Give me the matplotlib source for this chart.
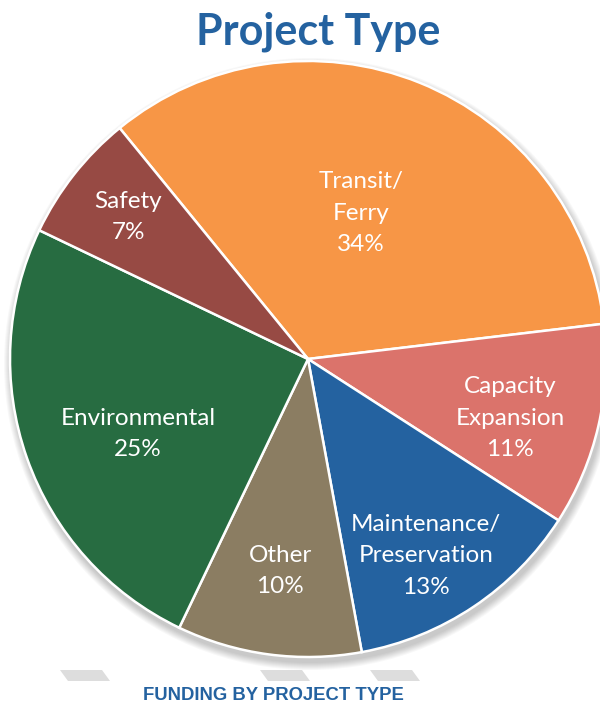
import numpy as np
import matplotlib.pyplot as plt
from matplotlib.patches import Circle, Polygon

# data
labels = ['Transit/\nFerry', 'Capacity\nExpansion', 'Maintenance/\nPreservation',
          'Other', 'Environmental', 'Safety']
shares = [34, 11, 13, 10, 25, 7]
colors = ['#F79646', '#DB736B', '#2462A0', '#8B7D62', '#276C41', '#974A44']

# label placement: fraction of radius, angle shift from the wedge middle (deg)
label_r = [0.521, 0.706, 0.770, 0.717, 0.624, 0.769]
label_shift = [2.0, -3.3, -2.9, 0.1, 4.4, -0.1]

W, H = 600, 704
fig = plt.figure(figsize=(W / 100, H / 100), dpi=100)
ax = fig.add_axes([0, 0, 1, 1])

cx, cy, R = 308, H - 359, 298

# soft shadow under the pie
for i in range(8):
    ax.add_patch(Circle((cx + 2, cy - 5), R + 8 - i, color='#000000',
                        alpha=0.028, lw=0, zorder=0))

wedges, _ = ax.pie(shares, colors=colors, startangle=129.2, counterclock=False,
                   center=(cx, cy), radius=R, explode=[0.01, 0, 0, 0, 0, 0],
                   wedgeprops=dict(edgecolor='white', linewidth=1.8),
                   frame=True)
ax.set_xlim(0, W)
ax.set_ylim(0, H)
ax.set_aspect('equal')
ax.axis('off')

for w, lab, s, d, sh in zip(wedges, labels, shares, label_r, label_shift):
    ang = np.deg2rad((w.theta1 + w.theta2) / 2 + sh)
    x = cx + d * R * np.cos(ang)
    y = cy + d * R * np.sin(ang)
    ax.text(x, y, f'{lab}\n{s}%', ha='center', va='center', color='white',
            fontsize=17.5, family='Lato', linespacing=1.6)

ax.text(318, H - 32, 'Project Type', ha='center', va='center',
        color='#2462A0', fontsize=31, fontweight='bold', family='Lato')

# decorative grey bars under the pie
for x0 in [60, 260, 370]:
    ax.add_patch(Polygon([(x0, H - 670), (x0 + 42, H - 670),
                          (x0 + 50, H - 681), (x0 + 8, H - 681)],
                         closed=True, color='#DDDDDD', lw=0))

ax.text(273, H - 695, 'FUNDING BY PROJECT TYPE', ha='center', va='center',
        color='#2462A0', fontsize=13.3, fontweight='bold',
        family='Liberation Sans')

fig.savefig('out.png', dpi=100)
